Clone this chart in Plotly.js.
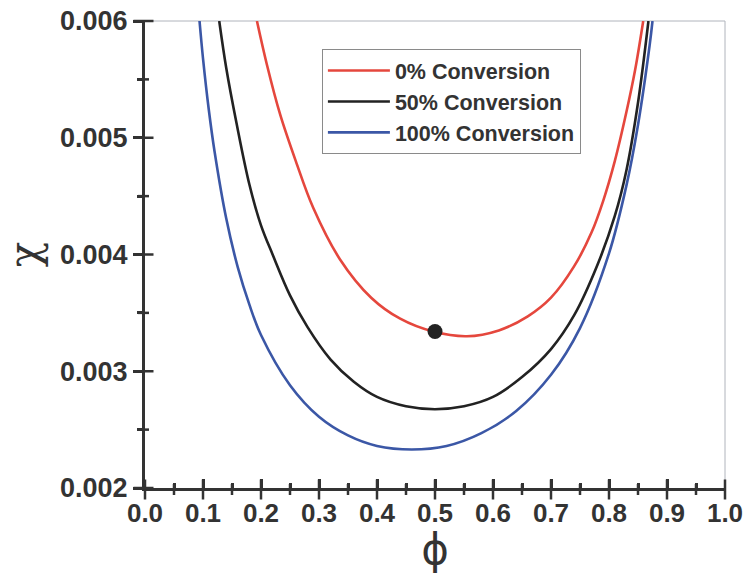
<!DOCTYPE html>
<html>
<head>
<meta charset="utf-8">
<script src="https://cdn.plot.ly/plotly-3.0.1.min.js"></script>
<style>html,body{margin:0;padding:0;background:#fff;}#chart{width:745px;height:574px;}</style>
</head>
<body>
<div id="chart"></div>
<script>
// Series names
const seriesNames = ["0% Conversion", "50% Conversion", "100% Conversion"];

// 0% conversion (red)
const phi0 = [0.193, 0.21, 0.233, 0.26, 0.29, 0.336, 0.39, 0.44, 0.497, 0.555, 0.61, 0.66, 0.70, 0.74, 0.77, 0.79, 0.81, 0.83, 0.845, 0.859];
const chi0 = [0.00600, 0.00563, 0.00520, 0.00480, 0.00440, 0.00396, 0.00363, 0.00345, 0.00334, 0.00330, 0.00335, 0.00347, 0.00363, 0.00390, 0.00419, 0.00446, 0.00480, 0.00522, 0.00558, 0.00600];

// 50% conversion (black)
const phi50 = [0.128, 0.14, 0.158, 0.18, 0.20, 0.22, 0.25, 0.28, 0.32, 0.36, 0.40, 0.45, 0.50, 0.55, 0.60, 0.65, 0.70, 0.74, 0.78, 0.81, 0.83, 0.85, 0.868];
const chi50 = [0.00600, 0.00560, 0.00512, 0.00460, 0.00425, 0.00400, 0.00365, 0.00338, 0.00310, 0.00291, 0.00278, 0.00270, 0.002675, 0.00270, 0.00278, 0.00295, 0.00319, 0.00348, 0.00391, 0.00433, 0.00472, 0.00530, 0.00600];

// 100% conversion (blue)
const phi100 = [0.094, 0.10, 0.11, 0.12, 0.14, 0.16, 0.18, 0.20, 0.25, 0.30, 0.35, 0.40, 0.46, 0.52, 0.58, 0.64, 0.70, 0.75, 0.80, 0.83, 0.85, 0.87, 0.875];
const chi100 = [0.00600, 0.00568, 0.00524, 0.00488, 0.00431, 0.00389, 0.00357, 0.00331, 0.00288, 0.00261, 0.00245, 0.00236, 0.00233, 0.00236, 0.00247, 0.00266, 0.00297, 0.00337, 0.00401, 0.00459, 0.00511, 0.00579, 0.00600];

// Highlighted point
const dotPhi = [0.5];
const dotChi = [0.00334];

// Axis ticks
const xTicks = [0.0, 0.1, 0.2, 0.3, 0.4, 0.5, 0.6, 0.7, 0.8, 0.9, 1.0];
const xMinorTicks = [0.05, 0.15, 0.25, 0.35, 0.45, 0.55, 0.65, 0.75, 0.85, 0.95];
const yTicks = [0.002, 0.003, 0.004, 0.005, 0.006];
const yMinorTicks = [0.0025, 0.0035, 0.0045, 0.0055];
const xRange = [0, 1];
const yRange = [0.002, 0.006];

const axisColor = '#333333';
const lineStyle = {shape: 'spline', smoothing: 1.0, width: 2.6};

const traces = [
  {x: phi0, y: chi0, name: seriesNames[0], mode: 'lines', line: Object.assign({color: '#e5473d'}, lineStyle)},
  {x: phi50, y: chi50, name: seriesNames[1], mode: 'lines', line: Object.assign({color: '#222222'}, lineStyle)},
  {x: phi100, y: chi100, name: seriesNames[2], mode: 'lines', line: Object.assign({color: '#3b57a6'}, lineStyle)},
  {x: dotPhi, y: dotChi, mode: 'markers', showlegend: false, marker: {color: '#222222', size: 15}}
];

const fam = 'Liberation Sans, Arial, sans-serif';
const tickFontX = {family: fam, size: 26, color: axisColor, weight: 'bold'};
const tickFontY = {family: fam, size: 27, color: axisColor, weight: 'bold'};

const W = 745, H = 574;
const M = {l: 145, r: 20, t: 21, b: 86};
const plotW = W - M.l - M.r, plotH = H - M.t - M.b;

// Crossing tick marks (paper-referenced so they are not clipped to the plot area)
const tickShapes = [];
function xTickMark(v, out, inn) {
  const px = (v - xRange[0]) / (xRange[1] - xRange[0]);
  tickShapes.push({type: 'line', xref: 'paper', yref: 'paper', x0: px, x1: px,
    y0: -out / plotH, y1: inn / plotH, line: {color: axisColor, width: 2.5}, layer: 'above'});
}
function yTickMark(v, out, inn) {
  const py = (v - yRange[0]) / (yRange[1] - yRange[0]);
  tickShapes.push({type: 'line', xref: 'paper', yref: 'paper', y0: py, y1: py,
    x0: -out / plotW, x1: inn / plotW, line: {color: axisColor, width: 2.5}, layer: 'above'});
}
xTicks.forEach(v => xTickMark(v, 11.5, 8.5));
xMinorTicks.forEach(v => xTickMark(v, 7, 4));
yTicks.forEach(v => yTickMark(v, 11.5, 8.5));
yMinorTicks.forEach(v => yTickMark(v, 7, 4));

const layout = {
  width: W, height: H,
  margin: M,
  paper_bgcolor: '#ffffff', plot_bgcolor: '#ffffff',
  showlegend: true,
  legend: {
    x: 0.305, y: 0.94, xanchor: 'left', yanchor: 'top',
    bgcolor: 'rgba(255,255,255,1)', bordercolor: '#8a8a8a', borderwidth: 1,
    font: {family: fam, size: 21.5, color: axisColor, weight: 'bold'},
    itemwidth: 62, tracegroupgap: 0
  },
  xaxis: {
    range: xRange, tickvals: xTicks, tickformat: '.1f',
    showgrid: false, zeroline: false,
    showline: true, linewidth: 3, linecolor: axisColor,
    ticks: 'inside', ticklen: 9, tickwidth: 2.5, tickcolor: axisColor,
    minor: {ticks: 'inside', ticklen: 5, tickwidth: 2.5, tickcolor: axisColor, dtick: 0.05, tick0: 0, showgrid: false},
    tickfont: tickFontX,
    title: {text: 'ϕ', standoff: 10, font: {family: 'DejaVu Sans, sans-serif', size: 42, color: axisColor}},
    automargin: false
  },
  yaxis: {
    range: yRange, tickvals: yTicks, tickformat: '.3f',
    showgrid: false, zeroline: false,
    showline: true, linewidth: 3, linecolor: axisColor,
    ticks: 'outside', ticklen: 9, tickwidth: 2.5, tickcolor: axisColor,
    minor: {ticks: 'outside', ticklen: 5, tickwidth: 2.5, tickcolor: axisColor, dtick: 0.0005, tick0: 0.002, showgrid: false},
    tickfont: tickFontY,
    title: {text: 'χ', standoff: 22, font: {family: 'DejaVu Serif, serif', size: 42, color: axisColor}},
    automargin: false
  },
  shapes: [
    {type: 'line', xref: 'paper', yref: 'paper', x0: 0, x1: 1, y0: 1, y1: 1, line: {color: '#b0b4bc', width: 1}, layer: 'below'},
    {type: 'line', xref: 'paper', yref: 'paper', x0: 1, x1: 1, y0: 0, y1: 1, line: {color: '#b0b4bc', width: 1}, layer: 'below'}
  ].concat(tickShapes)
};

Plotly.newPlot('chart', traces, layout, {displayModeBar: false});
</script>
</body>
</html>
